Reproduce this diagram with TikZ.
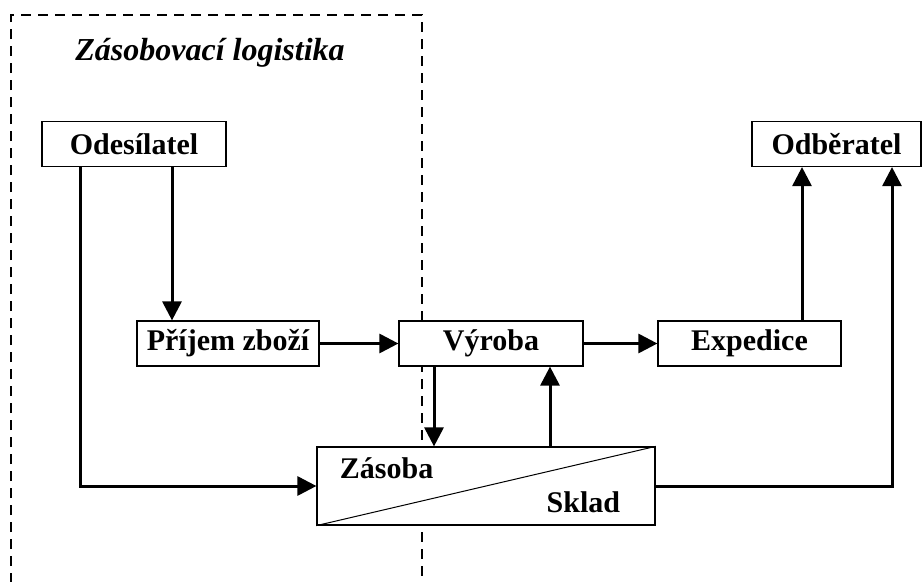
\documentclass[tikz,border=0pt]{standalone}
\usepackage{fontspec}
\setmainfont{Liberation Serif}
\usetikzlibrary{arrows.meta}
\usetikzlibrary{positioning}

\begin{document}
\begin{tikzpicture}[x=1pt,y=-1pt,
    box/.style={draw,fill=white,line width=1.2pt,inner sep=0pt,minimum height=45pt,font=\fontsize{30}{34}\selectfont\bfseries},
    flow/.style={line width=3pt,-{Triangle[length=19pt,width=19pt]}}]
    \useasboundingbox (0,0) rectangle (923,581);
    \draw[line width=1.4pt,dash pattern=on 10pt off 7pt] (11,600) -- (11,15) -- (422,15) -- (422,600);
    \node[font=\fontsize{32}{36}\selectfont\bfseries\itshape] (title) at (210,53) {Zásobovací logistika};
    %
    \node[box,minimum width=184pt] (odes) at (134,144) {Odesílatel};
    \node[box,minimum width=169pt] (odb) at (836.5,144) {Odběratel};
    \node[box,minimum width=182pt] (prijem) at (228,343.5) {Příjem zboží};
    \node[box,minimum width=184pt] (vyroba) at (491,343.5) {Výroba};
    \node[box,minimum width=183pt] (exped) at (749.5,343.5) {Expedice};
    \node[box,minimum width=338pt,minimum height=78pt] (zasoba) at (486,486) {};
    \draw[line width=1pt] (zasoba.south west) -- (zasoba.north east);
    \node[font=\fontsize{30}{34}\selectfont\bfseries,anchor=west] (zas) at ([shift={(20,-18)}]zasoba.west) {Zásoba};
    \node[font=\fontsize{30}{34}\selectfont\bfseries,anchor=east] (skl) at ([shift={(-32,16)}]zasoba.east) {Sklad};
    %
    \coordinate (odesa) at ([xshift=-54pt]odes.south);
    \coordinate (odesb) at ([xshift=38pt]odes.south);
    \draw[flow] (odesb) -- (odesb |- prijem.north);
    \draw[flow] (odesa) |- (zasoba.west);
    \draw[flow] (prijem) -- (vyroba);
    \draw[flow] ([xshift=-57pt]vyroba.south) -- ([xshift=-57pt]vyroba.south |- zasoba.north);
    \draw[flow] ([xshift=59pt]vyroba.south |- zasoba.north) -- ([xshift=59pt]vyroba.south);
    \draw[flow] (vyroba) -- (exped);
    \draw[flow] ([xshift=52.5pt]exped.north) -- ([xshift=52.5pt]exped.north |- odb.south);
    \coordinate (odbb) at ([xshift=55.5pt]odb.south);
    \draw[flow] (zasoba.east) -| (odbb);
\end{tikzpicture}
\end{document}
